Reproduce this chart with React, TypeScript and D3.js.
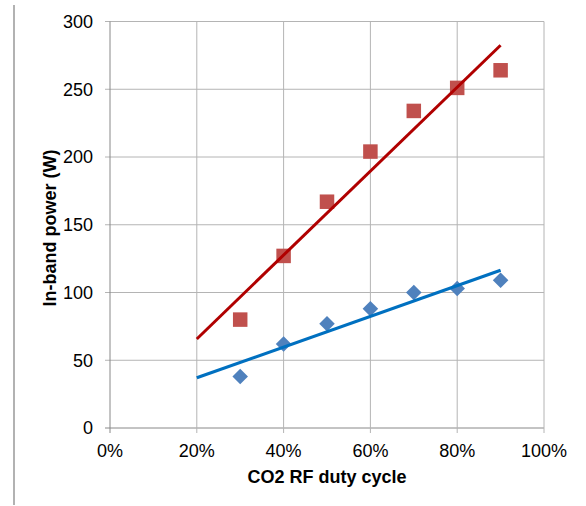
import React from "react";
import * as d3 from "d3";

// duty cycle values (fraction)
const dutyCycle = [0.3, 0.4, 0.5, 0.6, 0.7, 0.8, 0.9];
// in-band power, W
const redPower = [80, 127, 167, 204, 234, 251, 264];
const bluePower = [38, 62, 77, 88, 100, 103, 109];
// trendline range (backward forecast to 20%)
const trendRange = [0.2, 0.9];

const xTicks = [0, 0.2, 0.4, 0.6, 0.8, 1.0];
const yTicks = [0, 50, 100, 150, 200, 250, 300];

const W = 586;
const H = 506;
const margin = { left: 110, right: 42, top: 21.5, bottom: 78 };

// linear least-squares fit, like the spreadsheet trendline
function fit(xs: number[], ys: number[]) {
  const mx = d3.mean(xs) as number;
  const my = d3.mean(ys) as number;
  let sxy = 0;
  let sxx = 0;
  xs.forEach((x, i) => {
    sxy += (x - mx) * (ys[i] - my);
    sxx += (x - mx) * (x - mx);
  });
  const slope = sxy / sxx;
  return (x: number) => my + slope * (x - mx);
}

export default function App() {
  const x = d3.scaleLinear().domain([0, 1]).range([margin.left, W - margin.right]);
  const y = d3.scaleLinear().domain([0, 300]).range([H - margin.bottom, margin.top]);

  const redFit = fit(dutyCycle, redPower);
  const blueFit = fit(dutyCycle, bluePower);
  const trend = (f: (v: number) => number) =>
    d3
      .line<number>()
      .x((d) => x(d))
      .y((d) => y(f(d)))(trendRange) as string;

  const sq = 14.5;
  const dm = 11;
  const font = "'Liberation Sans', Arial, sans-serif";

  return (
    <svg width={W} height={H} style={{ position: "absolute", left: 0, top: 0 }}>
      <rect width={W} height={H} fill="#fff" />
      <line x1={14} x2={14} y1={5} y2={505} stroke="#999" strokeWidth={1.5} />
      {/* grid */}
      {yTicks.map((t) => (
        <line
          key={"gy" + t}
          x1={margin.left - 5}
          x2={x(1)}
          y1={y(t)}
          y2={y(t)}
          stroke={t === 0 ? "#888" : "#b4b4b4"}
          strokeWidth={1}
        />
      ))}
      {xTicks.map((t) => (
        <line
          key={"gx" + t}
          x1={x(t)}
          x2={x(t)}
          y1={y(300)}
          y2={y(0) + 5}
          stroke={t === 0 ? "#888" : "#b4b4b4"}
          strokeWidth={1}
        />
      ))}
      {/* tick labels */}
      {yTicks.map((t) => (
        <text
          key={"ly" + t}
          x={93}
          y={y(t)}
          dy="0.35em"
          textAnchor="end"
          fontFamily={font}
          fontSize={18}
          fill="#000"
        >
          {t}
        </text>
      ))}
      {xTicks.map((t) => (
        <text
          key={"lx" + t}
          x={x(t)}
          y={457}
          textAnchor="middle"
          fontFamily={font}
          fontSize={18}
          fill="#000"
        >
          {d3.format(".0%")(t)}
        </text>
      ))}
      {/* axis titles */}
      <text
        x={327}
        y={483}
        textAnchor="middle"
        fontFamily={font}
        fontSize={18}
        fontWeight="bold"
      >
        CO2 RF duty cycle
      </text>
      <text
        transform={`translate(56, 228) rotate(-90)`}
        textAnchor="middle"
        fontFamily={font}
        fontSize={18}
        fontWeight="bold"
      >
        In-band power (W)
      </text>
      {/* markers */}
      {dutyCycle.map((d, i) => (
        <rect
          key={"r" + i}
          x={x(d) - sq / 2}
          y={y(redPower[i]) - sq / 2}
          width={sq}
          height={sq}
          fill="#C0504D"
        />
      ))}
      {dutyCycle.map((d, i) => (
        <rect
          key={"b" + i}
          x={-dm / 2}
          y={-dm / 2}
          width={dm}
          height={dm}
          transform={`translate(${x(d)},${y(bluePower[i])}) rotate(45)`}
          fill="#4F81BD"
        />
      ))}
      {/* trendlines */}
      <path d={trend(redFit)} stroke="#B00000" strokeWidth={3} fill="none" />
      <path d={trend(blueFit)} stroke="#0070C0" strokeWidth={3.2} fill="none" />
    </svg>
  );
}
